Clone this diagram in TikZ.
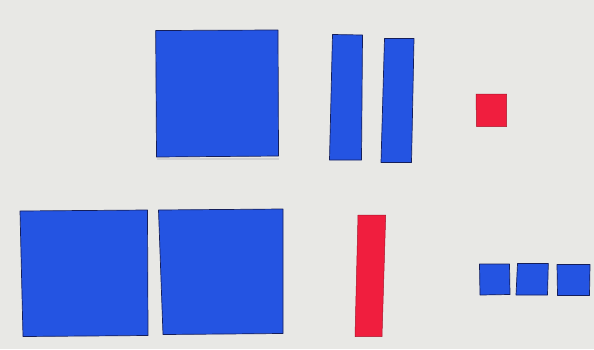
\documentclass[tikz,border=0pt]{standalone}
\definecolor{bg}{RGB}{232,232,229}
\definecolor{tileblue}{RGB}{36,84,226}
\definecolor{tilered}{RGB}{240,30,62}
\definecolor{edge}{RGB}{20,30,90}
\tikzset{
  bluetile/.style={fill=tileblue, draw=edge, line width=0.7pt, line join=round},
  redtile/.style={fill=tilered, draw=tilered!70!black, line width=0.5pt, line join=round},
  shadow/.style={fill=black!18, draw=none}
}
\begin{document}
\begin{tikzpicture}[x=1pt,y=-1pt]
\useasboundingbox (0,0) rectangle (594,349);
\fill[bg] (0,0) rectangle (594,349);
% top row
\fill[shadow] (157,158) rectangle (279,160);
\draw[bluetile] (155.7,30.5) -- (278,30) -- (278.5,156) -- (156.5,157) -- cycle;
\draw[bluetile] (332.5,34.5) -- (362.5,35) -- (361.5,160) -- (329.5,160) -- cycle;
\draw[bluetile] (384.5,38.5) -- (414,38.5) -- (411.5,162.5) -- (381,162.5) -- cycle;
\draw[redtile] (476,94) -- (506.5,94) -- (506.5,126.5) -- (476.5,126.5) -- cycle;
% bottom row
\draw[bluetile] (20,211) -- (147.5,210) -- (148,335.5) -- (23,336.5) -- cycle;
\draw[bluetile] (158.5,210) -- (283,209) -- (283,333.5) -- (163,334.5) -- cycle;
\draw[redtile] (358,215) -- (385.7,215) -- (382,336.5) -- (355,336.5) -- cycle;
\draw[bluetile] (479.5,264) -- (509.5,264) -- (510,294.5) -- (480,295) -- cycle;
\draw[bluetile] (517.5,263.5) -- (548.3,263.5) -- (547.5,295) -- (516,295) -- cycle;
\draw[bluetile] (557,264.5) -- (590,264.5) -- (589.5,295.5) -- (557.5,295.5) -- cycle;
\end{tikzpicture}
\end{document}
